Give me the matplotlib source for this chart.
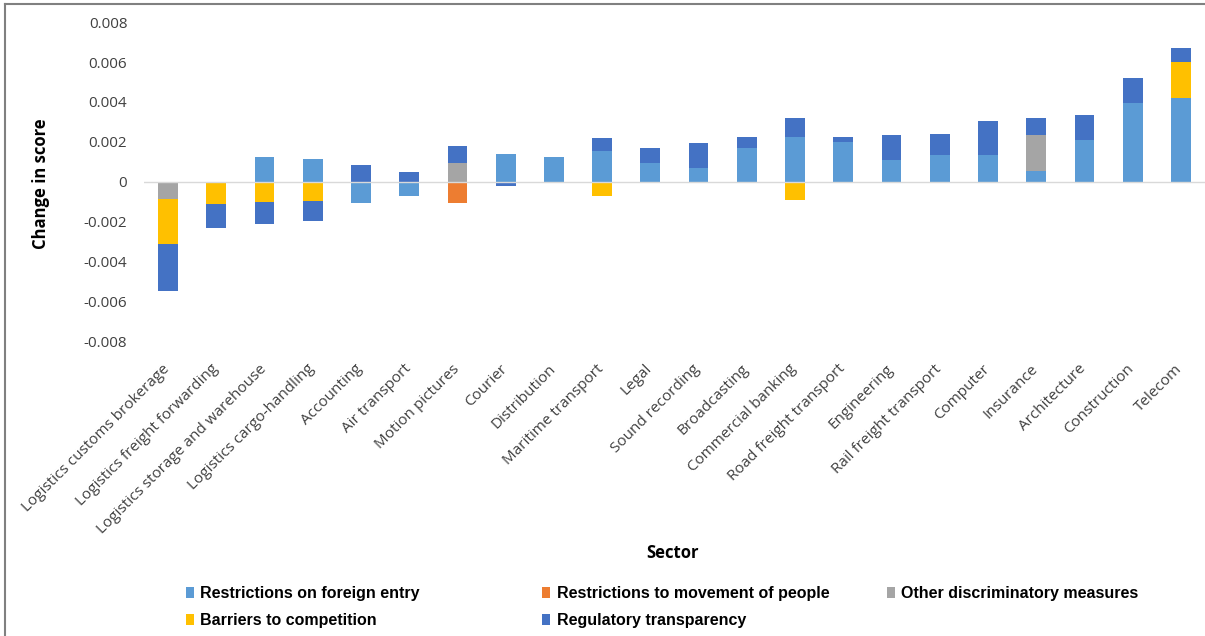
import numpy as np
import matplotlib.pyplot as plt
import matplotlib.transforms as mtransforms
from matplotlib.lines import Line2D

sectors = ["Logistics customs brokerage", "Logistics freight forwarding",
           "Logistics storage and warehouse", "Logistics cargo-handling",
           "Accounting", "Air transport", "Motion pictures", "Courier",
           "Distribution", "Maritime transport", "Legal", "Sound recording",
           "Broadcasting", "Commercial banking", "Road freight transport",
           "Engineering", "Rail freight transport", "Computer", "Insurance",
           "Architecture", "Construction", "Telecom"]

foreign_entry = [0, 0, 0.00127, 0.00117, -0.00107, -0.00068, 0, 0.00142, 0.00125,
                 0.00157, 0.00093, 0.0007, 0.00172, 0.00225, 0.002, 0.0011,
                 0.00133, 0.00133, 0.00057, 0.0021, 0.00397, 0.00419]
movement_people = [0, 0, 0, 0, 0, 0, -0.00107, 0, 0, 0, 0, 0, 0, 0, 0, 0,
                   0, 0, 0, 0, 0, 0]
other_discrim = [-0.00087, 0, 0, 0, 0, 0, 0.00093, 0, 0, 0, 0, 0, 0, 0, 0, 0,
                 0, 0, 0.00177, 0, 0, 0]
barriers = [-0.00225, -0.0011, -0.001, -0.00093, 0, 0, 0, 0, 0, -0.00068, 0, 0,
            0, -0.0009, 0, 0, 0, 0, 0, 0, 0, 0.0018]
transparency = [-0.00235, -0.0012, -0.0011, -0.001, 0.00087, 0.00048, 0.00087,
                -0.00018, 0, 0.00062, 0.00077, 0.00125, 0.00053, 0.00097, 0.00025,
                0.00125, 0.00108, 0.0017, 0.00087, 0.00125, 0.00125, 0.0007]

series = [("Restrictions on foreign entry", foreign_entry, "#5B9BD5"),
          ("Restrictions to movement of people", movement_people, "#ED7D31"),
          ("Other discriminatory measures", other_discrim, "#A5A5A5"),
          ("Barriers to competition", barriers, "#FFC000"),
          ("Regulatory transparency", transparency, "#4472C4")]

font = ["Open Sans", "DejaVu Sans"]

fig = plt.figure(figsize=(12.05, 6.36), dpi=100)
ax = fig.add_axes([0.1195, 0.4623, 0.8805, 0.5031])

x = np.arange(len(sectors))
pos = np.zeros(len(sectors))
neg = np.zeros(len(sectors))
handles = []
for name, vals, col in series:
    v = np.array(vals)
    bottoms = np.where(v >= 0, pos, neg)
    h = ax.bar(x, v, 0.41, bottom=bottoms, color=col, label=name, zorder=2)
    handles.append(h)
    pos = pos + np.where(v > 0, v, 0)
    neg = neg + np.where(v < 0, v, 0)

ax.axhline(0, color="#D9D9D9", lw=1, zorder=3)
ax.set_xlim(-0.5, len(sectors) - 0.5)
ax.set_ylim(-0.008, 0.008)
ax.set_yticks(np.arange(-0.008, 0.0081, 0.002))
ax.set_yticklabels(["-0.008", "-0.006", "-0.004", "-0.002", "0",
                    "0.002", "0.004", "0.006", "0.008"])
for s in ax.spines.values():
    s.set_visible(False)
ax.tick_params(axis="y", length=0, pad=12, labelsize=11, labelcolor="#404040")
ax.tick_params(axis="x", length=0, pad=14, labelsize=11, labelcolor="#404040")
ax.set_xticks(x)
ax.set_xticklabels(sectors, rotation=45, ha="right", rotation_mode="anchor",
                   family=font)
shift = mtransforms.ScaledTranslation(-6 / 100, 0, fig.dpi_scale_trans)
for t in ax.get_xticklabels():
    t.set_transform(t.get_transform() + shift)
for t in ax.get_yticklabels():
    t.set_family(font)

fig.text(0.034, 0.711, "Change in score", rotation=90, ha="center", va="center",
         fontsize=12, fontweight="bold", family=font)
fig.text(0.558, 0.131, "Sector", ha="center", va="center",
         fontsize=12, fontweight="bold", family=font)

# legend: equal-width columns like Excel, one legend per column
columns = [[0, 3], [1, 4], [2]]
col_x = [0.150, 0.446, 0.732]
for idx, cx in zip(columns, col_x):
    fig.legend([handles[i] for i in idx], [series[i][0] for i in idx],
               loc="upper left", bbox_to_anchor=(cx, 0.086), ncol=1,
               frameon=False, borderaxespad=0, borderpad=0.3,
               handlelength=0.5, handleheight=0.6, handletextpad=0.4,
               labelspacing=0.75,
               prop={"family": ["Liberation Sans Narrow", "Liberation Sans"],
                     "weight": "bold", "size": 11.5})

fig.add_artist(Line2D([0.0045, 0.0045], [0, 0.994], color="#808080", lw=1.5,
                      transform=fig.transFigure))
fig.add_artist(Line2D([0.0045, 1], [0.994, 0.994], color="#808080", lw=1.5,
                      transform=fig.transFigure))

fig.savefig("out.png", dpi=100)
